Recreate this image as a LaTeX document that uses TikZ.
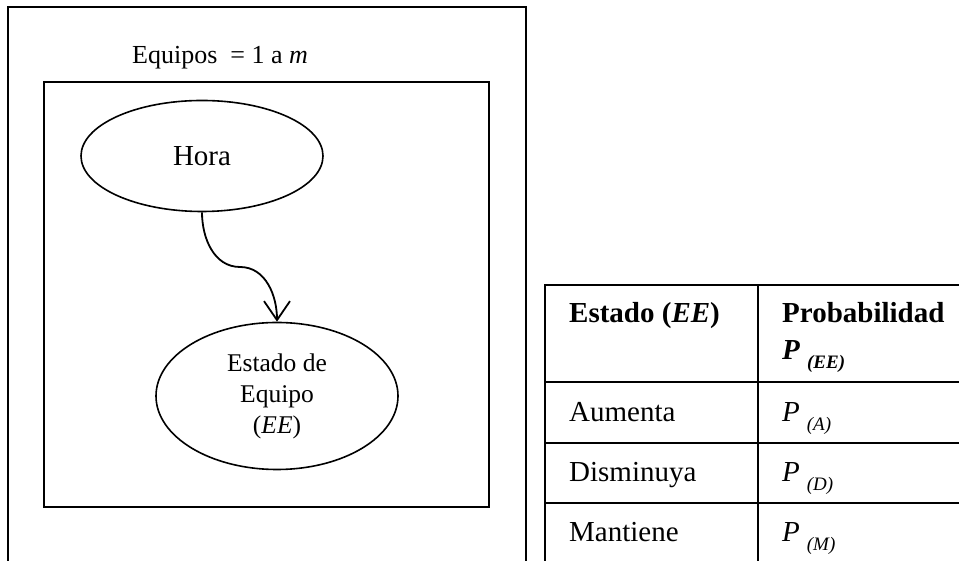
\documentclass[tikz,border=0pt]{standalone}
\usepackage{fontspec}
\setmainfont{Liberation Serif}
\usetikzlibrary{arrows.meta,shapes.geometric}

\newcommand{\probsub}[1]{\textit{P}\hspace{7pt}\raisebox{-9pt}{\fontsize{19}{19}\selectfont\textit{#1}}}

\begin{document}
\begin{tikzpicture}[x=1pt,y=1pt,>={Straight Barb[length=19pt,width=26pt]},
    box/.style={line width=2pt},
    var/.style={draw,ellipse,line width=1.6pt,minimum width=242pt,inner sep=0pt,align=center},
    cell/.style={anchor=base west,inner sep=0pt,font=\fontsize{29}{34}\selectfont}]
    \useasboundingbox (0,0) rectangle (959,561);

    % plates
    \draw[box] (8,-5) -- (8,554) -- (526,554) -- (526,-5);
    \draw[box] (44,54) rectangle (489,479);
    \node[anchor=base,inner sep=0pt,font=\fontsize{26}{31}\selectfont] (plate) at (220,497) {Equipos\ \ = 1 a \textit{m}};

    % variables
    \node[var,minimum height=111pt,font=\fontsize{29}{34}\selectfont] (hora)   at (202,405) {Hora};
    \node[var,minimum height=147pt,font=\fontsize{25.5}{31}\selectfont] (estado) at (277,165) {Estado de\\Equipo\\(\textit{EE})};
    \coordinate (kink) at (240,294);

    \draw[->,line width=1.8pt] (hora) to[out=-90,in=180] (kink) to[out=0,in=90] (estado);

    % table
    \draw[box] (545,-5) -- (545,276) -- (960,276);
    \draw[box] (758,-5) -- (758,276);
    \foreach \y in {179,118,58}
      \draw[box] (545,\y) -- (960,\y);

    \node[cell] (hEstado) at (569,238) {\textbf{Estado (\textit{EE})}};
    \node[cell] (hProb)   at (782,238) {\textbf{Probabilidad}};
    \node[cell] (hP)      at (782,201) {\bfseries\probsub{(EE)}};
    \node[cell] (sA) at (569,139) {Aumenta};
    \node[cell] (pA) at (782,139) {\probsub{(A)}};
    \node[cell] (sD) at (569,79)  {Disminuya};
    \node[cell] (pD) at (782,79)  {\probsub{(D)}};
    \node[cell] (sM) at (569,19)  {Mantiene};
    \node[cell] (pM) at (782,19)  {\probsub{(M)}};
\end{tikzpicture}
\end{document}
